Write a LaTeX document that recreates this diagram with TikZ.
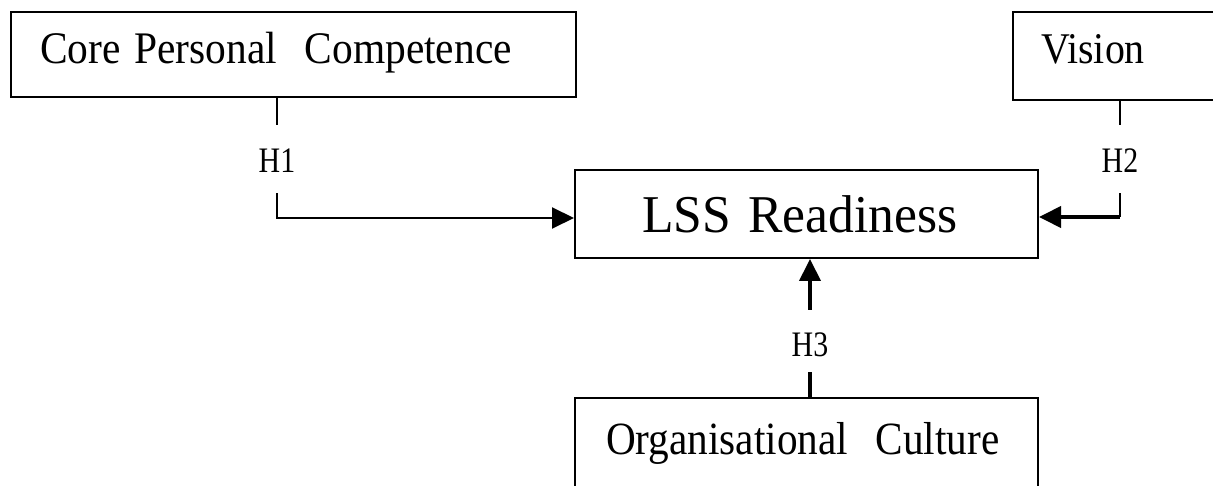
\documentclass[tikz,border=0pt]{standalone}
\usepackage{fontspec}
\usepackage{graphicx}
\setmainfont{Liberation Serif}
\usetikzlibrary{arrows.meta}
\begin{document}
\begin{tikzpicture}[x=1bp,y=-1bp,
  box/.style={draw, line width=2bp, inner ysep=0pt, anchor=north west, align=left},
  lab/.style={inner sep=0pt, font=\fontsize{30}{36}\selectfont},
  thin conn/.style={line width=2bp},
  thick conn/.style={line width=4bp},
  tip/.style={-{Triangle[length=22bp,width=21bp]}}]
\useasboundingbox (0,0) rectangle (1213,486);
% boxes
\node[box, inner xsep=29bp, text width=507bp, minimum height=85bp,
      text height=30bp, text depth=11bp, font=\fontsize{41.6}{50}\selectfont]
  (core) at (10,11) {\scalebox{1}[1.09]{Core Personal\ \ Competence}};
\node[box, inner xsep=28bp, text width=200bp, minimum height=88bp,
      text height=28bp, text depth=12bp, font=\fontsize{40}{48}\selectfont]
  (vision) at (1012,11) {\scalebox{1}[1.1]{Vision}};
\node[box, inner xsep=67bp, text width=329bp, minimum height=88bp,
      text height=44bp, text depth=6bp, font=\fontsize{51.8}{62}\selectfont]
  (lss) at (574,169) {\scalebox{1}[1.03]{LSS Readiness}};
\node[box, inner xsep=31bp, text width=401bp, minimum height=130bp,
      text height=30bp, text depth=48bp, font=\fontsize{41.4}{48}\selectfont]
  (org) at (574,397) {\scalebox{1}[1.12]{Organisational\ \ Culture}};
% hypothesis labels
\node[lab, minimum height=68bp, text height=34bp, text depth=6bp] (h1) at (277,159) {\scalebox{1}[1.2]{H1}};
\node[lab, minimum height=68bp, text height=34bp, text depth=6bp] (h2) at (1120,159) {\scalebox{1}[1.2]{H2}};
\node[lab, minimum height=62bp, text height=36bp, text depth=4bp] (h3) at (810,341) {\scalebox{1}[1.2]{H3}};
% connectors
\coordinate (c1) at ([yshift=-4bp]lss.west);
\coordinate (c2) at ([yshift=-3bp]lss.east);
\coordinate (k2) at (h2.south |- c2);
\draw[thin conn] (core.south -| h1.center) -- (h1.north);
\draw[thin conn, tip] (h1.south) |- (c1);
\draw[thin conn] (vision.south -| h2.center) -- (h2.north);
\draw[thin conn] (h2.south) -- (k2);
\draw[thick conn, tip] (k2) -- (c2);
\draw[thick conn] (org.north -| h3.center) -- (h3.south);
\draw[thick conn, tip] (h3.north) -- (lss.south -| h3.center);
\end{tikzpicture}
\end{document}
